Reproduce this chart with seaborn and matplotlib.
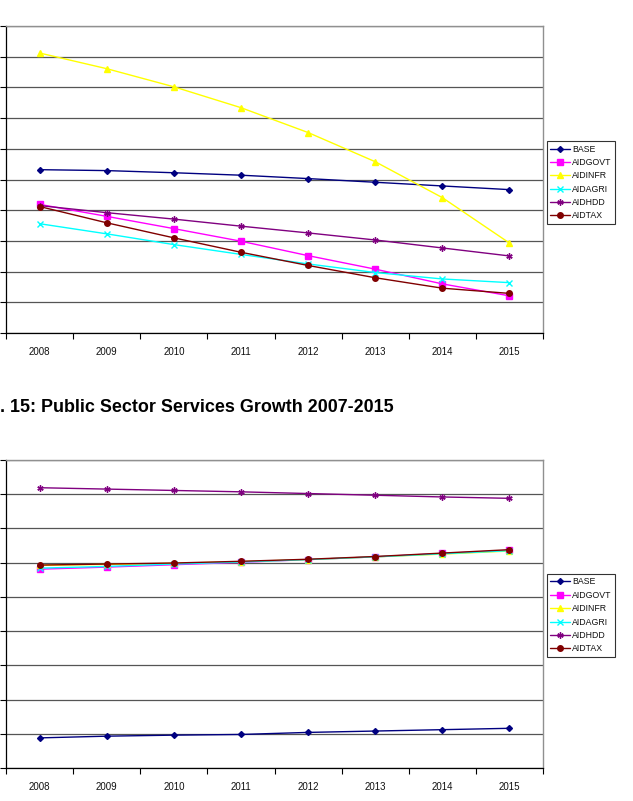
import numpy as np
import pandas as pd
import seaborn as sns
import matplotlib
matplotlib.use("Agg")
import matplotlib.pyplot as plt
from matplotlib.ticker import MultipleLocator, FixedLocator

years = ['2008', '2009', '2010', '2011', '2012', '2013', '2014', '2015']
series_names = ['BASE', 'AIDGOVT', 'AIDINFR', 'AIDAGRI', 'AIDHDD', 'AIDTAX']

# upper chart (grid units, y labels cropped off in the source)
top_base = [5.32, 5.29, 5.22, 5.14, 5.03, 4.91, 4.79, 4.67]
top_aidgovt = [4.19, 3.80, 3.40, 2.99, 2.52, 2.08, 1.60, 1.21]
top_aidinfr = [9.12, 8.61, 8.02, 7.34, 6.53, 5.58, 4.41, 2.93]
top_aidagri = [3.56, 3.23, 2.88, 2.56, 2.25, 1.97, 1.76, 1.64]
top_aidhdd = [4.15, 3.92, 3.71, 3.48, 3.26, 3.03, 2.77, 2.51]
top_aidtax = [4.12, 3.59, 3.10, 2.63, 2.20, 1.80, 1.46, 1.29]

# lower chart: public sector services growth
low_base = [0.88, 0.93, 0.96, 0.98, 1.04, 1.08, 1.12, 1.16]
low_aidgovt = [5.81, 5.87, 5.94, 6.01, 6.09, 6.17, 6.27, 6.36]
low_aidinfr = [5.92, 5.95, 5.98, 6.03, 6.09, 6.17, 6.25, 6.34]
low_aidagri = [5.84, 5.89, 5.96, 6.02, 6.09, 6.17, 6.26, 6.35]
low_aidhdd = [8.19, 8.15, 8.11, 8.07, 8.02, 7.97, 7.92, 7.88]
low_aidtax = [5.93, 5.96, 5.99, 6.04, 6.10, 6.18, 6.28, 6.38]

colors = ['#000080', '#FF00FF', '#FFFF00', '#00FFFF', '#800080', '#800000']
markers = ['D', 's', '^', 'x', (6, 2, 0), 'o']
msizes = [3, 4, 4, 4, 4.5, 4]

top_df = pd.DataFrame(dict(zip(series_names, [top_base, top_aidgovt, top_aidinfr,
                                               top_aidagri, top_aidhdd, top_aidtax])))
low_df = pd.DataFrame(dict(zip(series_names, [low_base, low_aidgovt, low_aidinfr,
                                               low_aidagri, low_aidhdd, low_aidtax])))

sns.set_theme(style="white")
plt.rcParams['font.family'] = ['Liberation Sans', 'DejaVu Sans']

fig = plt.figure(figsize=(6.33, 8.01), dpi=100)
ax_top = fig.add_axes([6 / 633, 1 - 333 / 801, 537 / 633, 307 / 801])
ax_low = fig.add_axes([6 / 633, 1 - 768 / 801, 537 / 633, 308 / 801])


def draw_chart(ax, df, ymax, legend_y):
    pos = np.arange(len(years))
    for name, c, m, ms in zip(series_names, colors, markers, msizes):
        sns.lineplot(x=pos, y=df[name].values, ax=ax, color=c, marker=m,
                     markersize=ms, markeredgecolor=c, markeredgewidth=1,
                     linewidth=1, label=name)
    ax.set_xlim(-0.5, len(years) - 0.5)
    ax.set_ylim(0, ymax)
    ax.xaxis.set_major_locator(FixedLocator(pos))
    ax.set_xticklabels(years, fontsize=7, color='#111111')
    ax.xaxis.set_minor_locator(FixedLocator(np.arange(-0.5, len(years), 1)))
    ax.tick_params(axis='x', which='major', length=0, pad=10)
    ax.tick_params(axis='x', which='minor', length=4, width=0.8,
                   direction='out', color='black', bottom=True)
    ax.yaxis.set_major_locator(MultipleLocator(1))
    ax.set_yticklabels([])
    ax.tick_params(axis='y', which='major', length=4, width=0.8,
                   direction='out', color='black', left=True)
    ax.grid(axis='y', color='#555555', linewidth=0.9)
    ax.grid(axis='x', visible=False)
    ax.set_axisbelow(True)
    for s in ['left', 'bottom']:
        ax.spines[s].set_color('black')
        ax.spines[s].set_linewidth(0.9)
    for s in ['top', 'right']:
        ax.spines[s].set_color('#909090')
        ax.spines[s].set_linewidth(1)
    ax.set_xlabel('')
    ax.set_ylabel('')
    leg = ax.legend(loc='upper left', bbox_to_anchor=(1.0074, legend_y),
                    borderaxespad=0, fontsize=6.3, frameon=True, fancybox=False,
                    edgecolor='black', handlelength=2.2, handletextpad=0.3,
                    borderpad=0.4, labelspacing=0.5, labelcolor='#111111')
    leg.get_frame().set_linewidth(0.8)


draw_chart(ax_top, top_df, 10, 0.625)
draw_chart(ax_low, low_df, 9, 0.63)

fig.text(0, 1 - 408 / 801, '. 15: Public Sector Services Growth 2007-2015',
         fontsize=12.9, fontweight='bold', color='black', ha='left', va='center')

fig.savefig('out.png', dpi=100)
